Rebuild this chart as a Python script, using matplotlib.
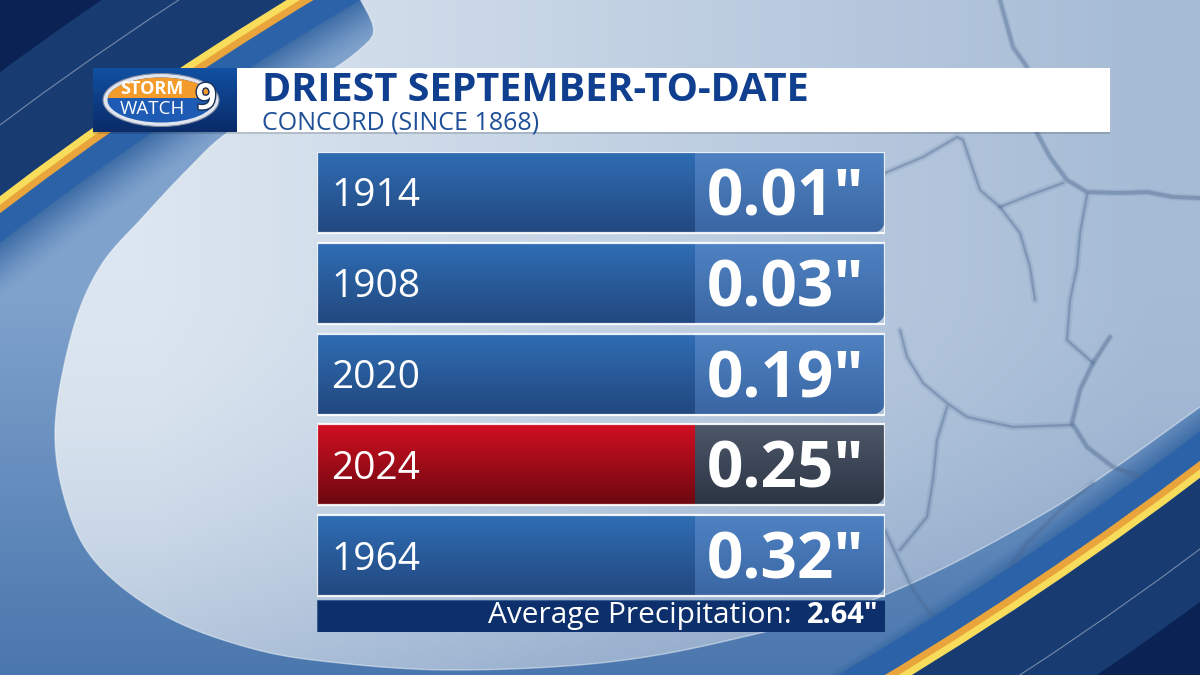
import numpy as np
import matplotlib.pyplot as plt
import matplotlib.patheffects as pe
from matplotlib.colors import to_rgb
from matplotlib.patches import Ellipse, Rectangle, PathPatch
from matplotlib.path import Path

plt.rcParams["font.family"] = ["Open Sans", "DejaVu Sans"]

# chart content
title = "DRIEST SEPTEMBER-TO-DATE"
subtitle = "CONCORD (SINCE 1868)"
years = ["1914", "1908", "2020", "2024", "1964"]
rain_in = [0.01, 0.03, 0.19, 0.25, 0.32]
highlight_year = "2024"
average_in = 2.64

W, H = 1200, 675


def blend(c1, c2, t):
    c1, c2 = np.array(to_rgb(c1)), np.array(to_rgb(c2))
    t = np.asarray(t, dtype=float)[..., None]
    return c1 * (1 - t) + c2 * t


def vgrad(top, bottom, n=64):
    return blend(top, bottom, np.linspace(0, 1, n))[:, None, :]


def smooth_closed(pts, n=16):
    # closed Catmull-Rom curve through the outline points
    P = np.asarray(pts, float)
    tt = np.linspace(0, 1, n, endpoint=False)[:, None]
    segs = []
    for i in range(len(P)):
        p0, p1, p2, p3 = P[i - 1], P[i], P[(i + 1) % len(P)], P[(i + 2) % len(P)]
        segs.append(0.5 * (2 * p1 + (p2 - p0) * tt + (2 * p0 - 5 * p1 + 4 * p2 - p3) * tt ** 2
                           + (3 * p1 - p0 - 3 * p2 + p3) * tt ** 3))
    v = np.vstack(segs + [P[:1]])
    return Path(v, closed=True)


fig = plt.figure(figsize=(12, 6.75), dpi=100, facecolor="#0a2354")
bg = fig.add_axes([0, 0, 1, 1])
bg.axis("off")

# --- background: tilted swoosh with gold rim, light orb inside ---
CX, CY, A, B, ANG = 600, 337, 1280, 436, 30


def swoosh(d, **kw):
    return Ellipse((CX, CY), 2 * (A + d), 2 * (B + d), angle=-ANG, **kw)


bg.add_patch(swoosh(115, fc="#183b72", ec="none", zorder=0.5))
bg.add_patch(swoosh(72, fc="none", ec="white", lw=0.8, alpha=0.4, zorder=0.6))
bg.add_patch(swoosh(14, fc="#f8dc5c", ec="none", zorder=0.7))
bg.add_patch(swoosh(7, fc="#e9a53c", ec="none", zorder=0.8))
bg.add_patch(swoosh(0, fc="#2c62a8", ec="none", zorder=0.9))

yy, xx = np.mgrid[0:H, 0:W] + 0.5
a = np.deg2rad(ANG)
dx, dy = xx - CX, yy - CY
u = dx * np.cos(a) - dy * np.sin(a)
v = dx * np.sin(a) + dy * np.cos(a)
rr = np.sqrt((u / (A - 24)) ** 2 + (v / (B - 24)) ** 2)

s = np.maximum(np.clip((rr - 0.9) / 0.1, 0, 1) ** 1.3, 0.8 * np.clip((yy - 300) / 375, 0, 1))
steel = blend("#7fa2cc", "#3d6ca6", s)
band = swoosh(-24, fc="none", ec="none")
bg.add_patch(band)
im1 = bg.imshow(steel, extent=(0, W, H, 0), interpolation="bilinear", zorder=1.2)
im1.set_clip_path(band)

orb_pts = [(440, -60), (370, 40), (290, 95), (227, 133), (190, 167), (143, 217),
           (100, 267), (72, 333), (55, 430), (68, 510), (100, 567), (167, 617),
           (250, 648), (330, 662), (450, 670), (600, 663), (730, 640), (880, 597),
           (1050, 510), (1200, 407), (1320, 320), (1320, -60)]
orb = PathPatch(smooth_closed(orb_pts), fc="none", ec="none")
bg.add_patch(orb)
t = (0.7 * np.clip((xx - 150) / 1000, 0, 1)
     + 0.6 * np.clip((yy - 280) / 400, 0, 1) ** 2)
light = blend("#dce6f0", "#8fa9ca", np.clip(t, 0, 1))
im2 = bg.imshow(light, extent=(0, W, H, 0), interpolation="bilinear", zorder=1.4)
im2.set_clip_path(orb)
bg.add_patch(PathPatch(smooth_closed(orb_pts), fc="none", ec="white", lw=1.0,
                       alpha=0.45, zorder=1.45))

# cracked-earth texture on the right
cracks = [
    [(1000, 0), (1013, 47), (1027, 67), (1037, 133), (1050, 157), (1067, 180),
     (1087, 192), (1120, 193), (1147, 192), (1173, 197), (1200, 198)],
    [(1087, 195), (1080, 233), (1077, 267), (1070, 300), (1067, 340), (1093, 363)],
    [(1110, 337), (1093, 363), (1080, 390), (1072, 423), (1087, 447), (1113, 467),
     (1140, 477), (1167, 485), (1190, 478)],
    [(900, 330), (907, 357), (923, 383), (947, 403), (967, 417), (1013, 427), (1072, 425)],
    [(947, 407), (937, 440), (933, 480), (927, 517), (900, 550)],
    [(885, 530), (900, 563), (913, 590), (930, 613), (960, 643), (965, 675)],
    [(1093, 483), (1060, 510), (1027, 543), (990, 597), (967, 630)],
    [(885, 173), (923, 157), (957, 137), (963, 140), (980, 190), (1000, 207),
     (1020, 233), (1030, 267), (1035, 300)],
    [(1000, 207), (1030, 195), (1063, 183)],
]
for k, c in enumerate(cracks):
    c = np.asarray(c)
    for lw, al in ((5.0, 0.12), (2.8 if k in (0, 2) else 1.8, 0.38)):
        ln, = bg.plot(c[:, 0], c[:, 1], color="#4d6890", lw=lw, alpha=al,
                      solid_joinstyle="round", solid_capstyle="round", zorder=1.5)
        ln.set_clip_path(band)

# --- title banner ---
bg.add_patch(Rectangle((93, 70), 1017, 64, fc="black", alpha=0.15, zorder=2.9))
bg.add_patch(Rectangle((93, 68), 1017, 64, fc="white", zorder=3))
bg.imshow(vgrad("#1150a3", "#0a2b68"), extent=(93, 237, 132, 68),
          aspect="auto", interpolation="bilinear", zorder=3.5)

bg.add_patch(Ellipse((161, 100), 116, 53, fc="#dfe4ee", ec="#7d8aa3", lw=0.8, zorder=4))
bg.add_patch(Ellipse((161, 100), 107, 45, fc="#1d5bb5", zorder=4.1))
orange = Ellipse((161, 100), 107, 45, fc="#f39b2b", zorder=4.2)
bg.add_patch(orange)
orange.set_clip_path(Rectangle((100, 70), 125, 27.5, transform=bg.transData))
bg.text(152, 89, "STORM", color="white", fontsize=13, fontweight="bold",
        ha="center", va="center", zorder=5)
bg.text(152, 109, "WATCH", color="white", fontsize=13.5, ha="center", va="center", zorder=5)
bg.text(206, 100, "9", color="white", fontsize=26, fontweight="bold", ha="center",
        va="center", zorder=5,
        path_effects=[pe.withStroke(linewidth=2, foreground="#1a2f55")])

bg.text(262, 101, title, color="#0f3f8e", fontsize=28.5, fontweight="bold",
        va="baseline", zorder=5)
bg.text(262, 130, subtitle, color="#1f4f97", fontsize=18, va="baseline", zorder=5)

bg.set_xlim(0, W)
bg.set_ylim(H, 0)

# --- ranked table ---
tx0, ty0, tw, th = 317, 152, 568, 480
ax = fig.add_axes([tx0 / W, 1 - (ty0 + th) / H, tw / W, th / H])
ax.axis("off")
ax.patch.set_alpha(0)

pitch, row_h, split, rad = 90.75, 81, 378, 13
for i, (yr, val) in enumerate(zip(years, rain_in)):
    top = i * pitch
    bot = top + row_h
    mid = top + row_h / 2
    hot = yr == highlight_year
    left_cols = ("#d10f21", "#6d0810") if hot else ("#2f6db4", "#22487f")
    right_cols = ("#4c5768", "#2c3544") if hot else ("#4f82c2", "#3a66a3")

    ax.imshow(vgrad(*left_cols), extent=(0, split, bot, top), aspect="auto",
              interpolation="bilinear")

    th_ = np.linspace(0, np.pi / 2, 16)
    arc = np.column_stack([tw - rad + rad * np.cos(th_), bot - rad + rad * np.sin(th_)])
    verts = [(split, top), (tw, top), *arc, (split, bot), (split, top)]
    codes = [Path.MOVETO] + [Path.LINETO] * (len(verts) - 2) + [Path.CLOSEPOLY]
    box = PathPatch(Path(verts, codes), fc="none", ec="none")
    ax.add_patch(box)
    vim = ax.imshow(vgrad(*right_cols), extent=(split, tw, bot, top), aspect="auto",
                    interpolation="bilinear")
    vim.set_clip_path(box)

    ax.add_patch(Rectangle((0, top), tw, row_h, fill=False, ec="white", lw=1.6,
                           alpha=0.9, zorder=2))
    ax.text(14, mid + 0.36 * 28 * 100 / 72, yr, color="white", fontsize=28,
            va="baseline", ha="left", zorder=3)
    ax.text(tw - 21, mid + 0.36 * 46 * 100 / 72, f'{val:.2f}"', color="white",
            fontsize=46, fontweight="bold", va="baseline", ha="right", zorder=3)

fy = (len(years) - 1) * pitch + row_h + 4
fh = th - fy
ax.add_patch(Rectangle((0, fy), tw, fh, fc="#0d2f6b", ec="#3a5f95", lw=0.8, zorder=2))
avg = ax.text(tw - 6, fy + 23, f'{average_in:.2f}"', color="white", fontsize=21,
              fontweight="bold", ha="right", va="baseline", zorder=3)
ax.annotate("Average Precipitation:  ", xy=(0, 0), xycoords=avg, color="white",
            fontsize=21.5, ha="right", va="bottom", zorder=3)

ax.set_xlim(0, tw)
ax.set_ylim(th, 0)

fig.savefig("out.png", dpi=100, facecolor=fig.get_facecolor())
